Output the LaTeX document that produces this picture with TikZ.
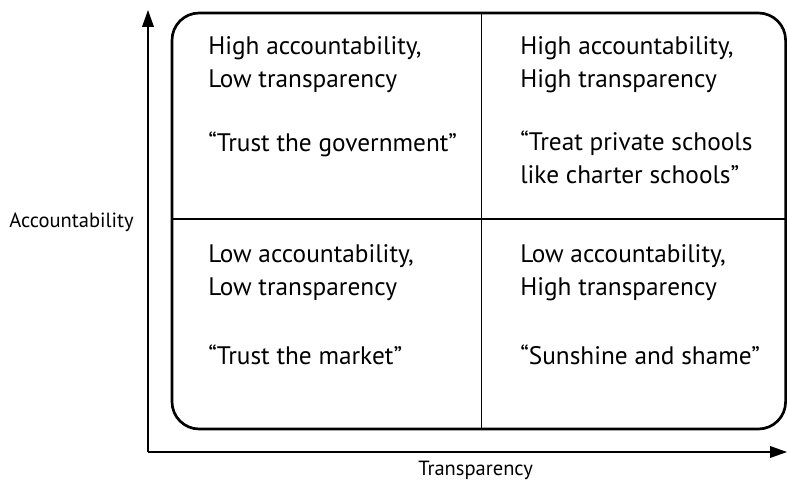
\documentclass[tikz,border=0pt]{standalone}
\usepackage{fontspec}
\setmainfont{PT Sans}
\usepackage{tikz}
\usetikzlibrary{arrows.meta}
\usetikzlibrary{positioning}

\tikzset{
  axis/.style={line width=0.9pt, -{Triangle[length=0.42cm, width=0.29cm]}},
  quadtext/.style={anchor=base west, align=left, font=\fontsize{18}{22.8}\selectfont, inner sep=0pt},
  axislabel/.style={anchor=base west, font=\fontsize{14.6}{16}\selectfont, inner sep=0pt}
}

\begin{document}
\begin{tikzpicture}
    \useasboundingbox (0,0) rectangle (19.675,12.025);

    % Axes
    \coordinate (O) at (3.7,0.725);
    \coordinate (ytop) at (3.7,11.775);
    \coordinate (xend) at (19.675,0.725);
    \draw[axis] (O) -- (ytop);
    \draw[axis] (O) -- (xend);
    \node[axislabel] (ylab) at (0.225,6.35) {Accountability};
    \node[axislabel] (xlab) at (10.45,0.15) {Transparency};

    % Cadre et séparations
    \draw[line width=1.9pt, rounded corners=0.68cm] (4.3,1.3) rectangle (19.64,11.7);
    \coordinate (midtop) at (12.04,11.7);
    \coordinate (midbot) at (12.04,1.3);
    \coordinate (midleft) at (4.3,6.55);
    \coordinate (midright) at (19.64,6.55);
    \draw[line width=0.9pt] (midtop) -- (midbot);
    \draw[line width=0.9pt] (midleft) -- (midright);

    % Quadrant haut gauche (base = last line)
    \node[quadtext] (hl) at (5.2,9.85) {High accountability,\\Low transparency};
    \node[quadtext] (hlq) at (5.2,8.25) {“Trust the government”};

    % Quadrant haut droit
    \node[quadtext] (hh) at (13.0,9.85) {High accountability,\\High transparency};
    \node[quadtext] (hhq) at (13.0,7.45) {“Treat private schools\\like charter schools”};

    % Quadrant bas gauche
    \node[quadtext] (ll) at (5.2,4.65) {Low accountability,\\Low transparency};
    \node[quadtext] (llq) at (5.2,2.925) {“Trust the market”};

    % Quadrant bas droit
    \node[quadtext] (lh) at (13.0,4.65) {Low accountability,\\High transparency};
    \node[quadtext] (lhq) at (13.0,2.925) {“Sunshine and shame”};

\end{tikzpicture}
\end{document}
